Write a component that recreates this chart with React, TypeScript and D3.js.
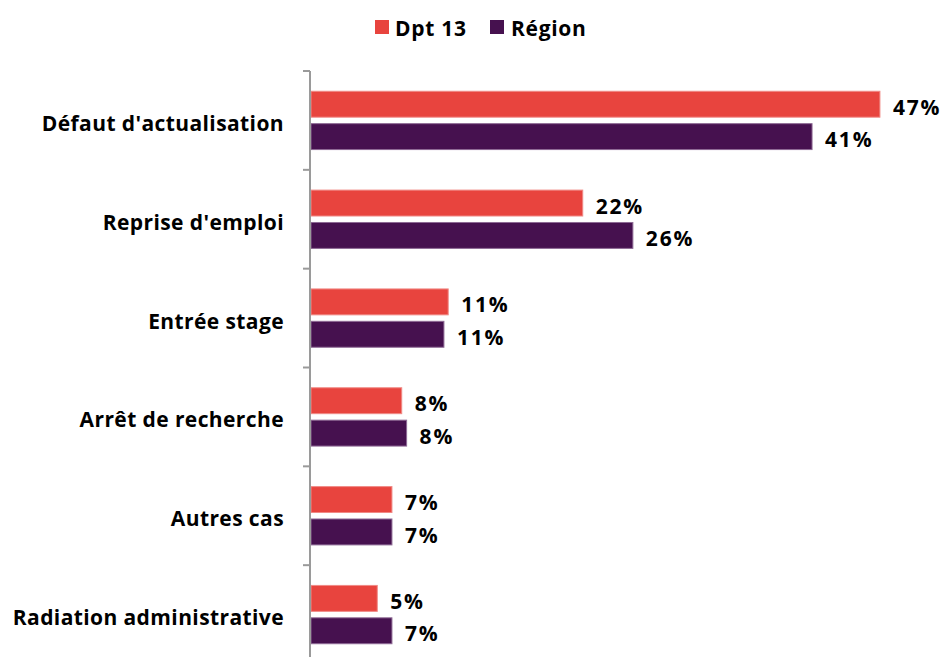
import React from "react";
import * as d3 from "d3";

const categories = [
  "Défaut d'actualisation",
  "Reprise d'emploi",
  "Entrée stage",
  "Arrêt de recherche",
  "Autres cas",
  "Radiation administrative",
];
const seriesNames = ["Dpt 13", "Région"];
const dptValues = [46.6, 22.3, 11.3, 7.5, 6.7, 5.5];
const regionValues = [41.05, 26.4, 10.95, 7.9, 6.7, 6.7];
const dptLabels = ["47%", "22%", "11%", "8%", "7%", "5%"];
const regionLabels = ["41%", "26%", "11%", "8%", "7%", "7%"];
const colors = ["#E8443E", "#46114F"];
const strokes = ["#F08A86", "#8E6A95"];

const W = 943;
const H = 657;
const FONT = "'Open Sans', Lato, sans-serif";

export default function App() {
  const x = d3.scaleLinear().domain([0, 50]).range([310, 310 + 50 * 12.23]);
  const yTop = 71;
  const yBottom = 664;
  const y0 = d3
    .scaleBand<string>()
    .domain(categories)
    .range([yTop, yBottom])
    .paddingInner(0.41)
    .paddingOuter(0.205);
  const yTicks = d3.scaleBand<string>().domain(categories).range([yTop, yBottom]).padding(0);
  const y1 = d3
    .scaleBand<string>()
    .domain(seriesNames)
    .range([0, y0.bandwidth()])
    .paddingInner(0.2);

  const values = [dptValues, regionValues];
  const labels = [dptLabels, regionLabels];
  const x0 = x(0);

  return (
    <svg
      width={W}
      height={H}
      style={{ position: "absolute", left: 0, top: 0, background: "#fff" }}
      fontFamily={FONT}
    >
      {/* legend */}
      <g>
        <rect x={375} y={20} width={14} height={14} fill={colors[0]} />
        <text x={395} y={36} fontSize={21} fontWeight={700} letterSpacing={0.7} fill="#000">
          {seriesNames[0]}
        </text>
        <rect x={490} y={20} width={14} height={14} fill={colors[1]} />
        <text x={511} y={36} fontSize={21} fontWeight={700} letterSpacing={0.7} fill="#000">
          {seriesNames[1]}
        </text>
      </g>

      {/* bars */}
      {categories.map((c, i) => (
        <g key={c}>
          {seriesNames.map((s, j) => {
            const v = values[j][i];
            const yy = (y0(c) as number) + (y1(s) as number);
            const bw = y1.bandwidth();
            return (
              <g key={s}>
                <rect
                  x={x0 + 1}
                  y={yy}
                  width={x(v) - x0 - 1}
                  height={bw}
                  fill={colors[j]}
                  stroke={strokes[j]}
                  strokeWidth={1}
                />
                <text
                  x={x(v) + 13}
                  y={yy + bw / 2 + 3}
                  dy="0.36em"
                  fontSize={21}
                  fontWeight={700}
                  letterSpacing={1.8}
                  fill="#000"
                >
                  {labels[j][i]}
                </text>
              </g>
            );
          })}
          <text
            x={284}
            y={(y0(c) as number) + y0.bandwidth() / 2 + 3}
            dy="0.36em"
            textAnchor="end"
            fontSize={21}
            fontWeight={700}
            letterSpacing={0.4}
            fill="#000"
          >
            {c}
          </text>
        </g>
      ))}

      {/* axis */}
      <g stroke="#9a9a9a" strokeWidth={2}>
        <line x1={x0} x2={x0} y1={yTop} y2={yBottom} />
        {categories.map((c) => (
          <line key={c} x1={x0 - 7} x2={x0} y1={yTicks(c) as number} y2={yTicks(c) as number} />
        ))}
      </g>
    </svg>
  );
}
